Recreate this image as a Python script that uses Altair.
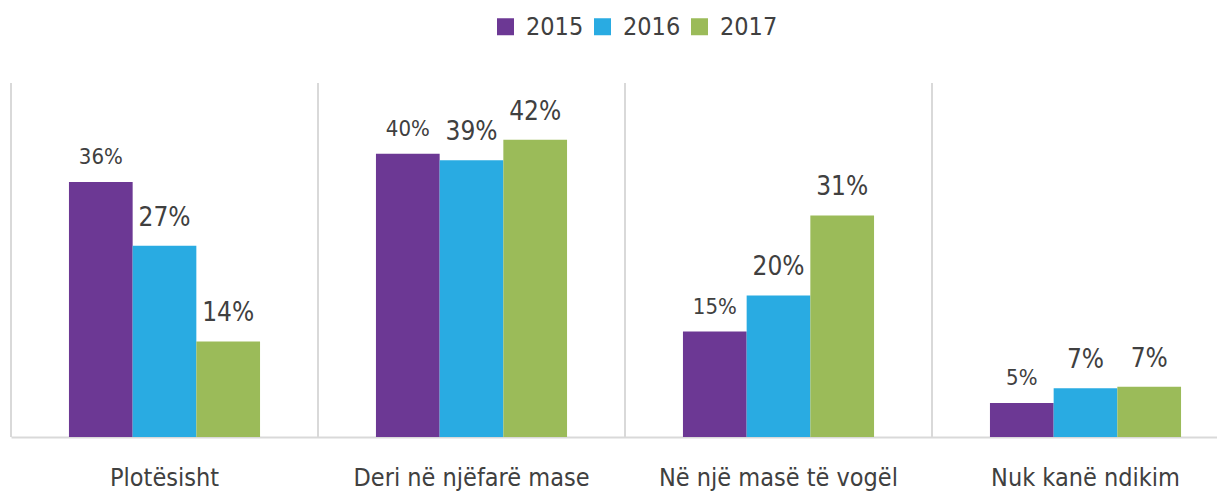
import altair as alt
import pandas as pd

categories = ["Plotësisht", "Deri në njëfarë mase", "Në një masë të vogël", "Nuk kanë ndikim"]
years = ["2015", "2016", "2017"]
labels2015 = ["36%", "40%", "15%", "5%"]
labels2016 = ["27%", "39%", "20%", "7%"]
labels2017 = ["14%", "42%", "31%", "7%"]
heights2015 = [36, 40, 14.9, 4.8]
heights2016 = [27, 39.1, 20, 6.9]
heights2017 = [13.5, 42, 31.3, 7.1]
colors = ["#6C3894", "#29ABE2", "#9BBB59"]

rows = []
for yr, hs, ls in [("2015", heights2015, labels2015), ("2016", heights2016, labels2016), ("2017", heights2017, labels2017)]:
    for c, h, l in zip(categories, hs, ls):
        rows.append({"cat": c, "year": yr, "value": h, "label": l,
                     "fs": "small" if yr == "2015" else "big"})
df = pd.DataFrame(rows)
sep = pd.DataFrame({"cat": categories})

FONT = "DejaVu Sans Condensed, Liberation Sans Narrow, Roboto, sans-serif"
TXT = "#404040"

xscale = alt.Scale(domain=categories, paddingInner=0, paddingOuter=0, range=[0, 1228])
yscale = alt.Scale(domain=[0, 50], nice=False)

xax = alt.Axis(title=None, labelFont=FONT, labelFontSize=25, labelColor=TXT,
               ticks=False, domain=True, domainColor="#d9d9d9", domainWidth=2,
               labelPadding=28, labelAngle=0, grid=False, labelLimit=500)

rules = alt.Chart(sep).mark_rule(color="#d9d9d9", strokeWidth=2).encode(
    x=alt.X("cat:N", scale=xscale, bandPosition=0, axis=xax, sort=categories),
    y=alt.value(0),
    y2=alt.value(354),
)

base = alt.Chart(df).encode(
    x=alt.X("cat:N", scale=xscale, sort=categories, axis=xax),
    xOffset=alt.XOffset("year:N", scale=alt.Scale(paddingInner=0, paddingOuter=0.91), sort=years),
)

bars = base.mark_bar().encode(
    y=alt.Y("value:Q", scale=yscale, axis=None),
    color=alt.Color("year:N", scale=alt.Scale(domain=years, range=colors),
                    legend=alt.Legend(title=None, orient="none", direction="horizontal",
                                      legendX=482, legendY=-69,
                                      symbolType="square", symbolSize=289, symbolStrokeWidth=0,
                                      labelFont=FONT, labelFontSize=25, labelColor=TXT,
                                      columnPadding=6, labelOffset=8)),
)

text_small = base.transform_filter(alt.datum.fs == "small").mark_text(
    baseline="alphabetic", dy=-18, font=FONT, fontSize=22, color=TXT
).encode(y=alt.Y("value:Q", scale=yscale), text="label:N")

text_big = base.transform_filter(alt.datum.fs == "big").mark_text(
    baseline="alphabetic", dy=-20, font=FONT, fontSize=26, color=TXT
).encode(y=alt.Y("value:Q", scale=yscale), text="label:N")

chart = alt.layer(rules, bars, text_small, text_big).properties(
    width=1206, height=354,
    autosize=alt.AutoSizeParams(type="none"),
    padding={"left": 3, "top": 75, "right": 0, "bottom": 58},
).configure_view(stroke=None)

chart.save("out.html", embed_options={"renderer": "svg", "actions": False})
